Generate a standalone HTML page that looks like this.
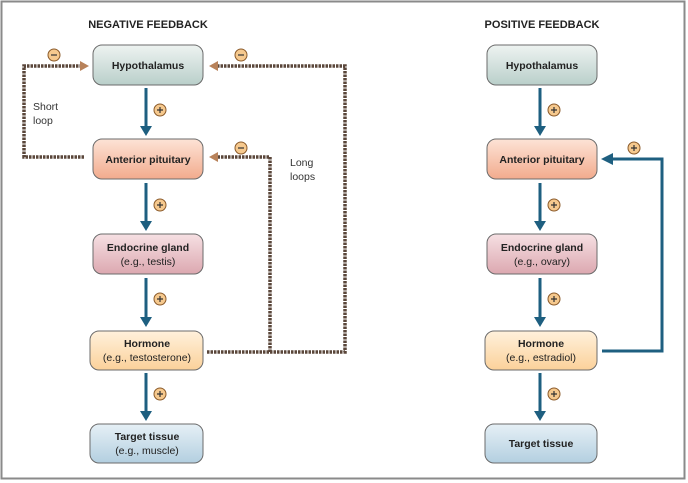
<!DOCTYPE html>
<html><head><meta charset="utf-8"><style>
body{margin:0;background:#fff;}
svg{display:block;font-family:"Liberation Sans",sans-serif;}
</style></head><body>
<svg width="688" height="483" viewBox="0 0 688 483" xmlns="http://www.w3.org/2000/svg">
<defs>
<linearGradient id="g1" x1="0" y1="0" x2="0" y2="1"><stop offset="0" stop-color="#eef3f1"/><stop offset="1" stop-color="#b9cfca"/></linearGradient>
<linearGradient id="g2" x1="0" y1="0" x2="0" y2="1"><stop offset="0" stop-color="#fde3d6"/><stop offset="1" stop-color="#f2ab8d"/></linearGradient>
<linearGradient id="g3" x1="0" y1="0" x2="0" y2="1"><stop offset="0" stop-color="#f6e0e3"/><stop offset="1" stop-color="#dca8b0"/></linearGradient>
<linearGradient id="g4" x1="0" y1="0" x2="0" y2="1"><stop offset="0" stop-color="#fff1dc"/><stop offset="1" stop-color="#fbd19a"/></linearGradient>
<linearGradient id="g5" x1="0" y1="0" x2="0" y2="1"><stop offset="0" stop-color="#e6f0f6"/><stop offset="1" stop-color="#b3cfe0"/></linearGradient>
</defs>
<rect x="1.5" y="1.5" width="683" height="477" fill="#fff" stroke="#8a8a8a" stroke-width="2"/>
<text x="148" y="28" font-size="11" font-weight="bold" text-anchor="middle" fill="#222">NEGATIVE FEEDBACK</text>
<text x="542" y="28" font-size="11" font-weight="bold" text-anchor="middle" fill="#222">POSITIVE FEEDBACK</text>

<g stroke="#6b6b6b" stroke-width="1">
<rect x="93" y="45" width="110" height="40" rx="9" fill="url(#g1)"/>
<rect x="93" y="139" width="110" height="40" rx="9" fill="url(#g2)"/>
<rect x="93" y="234" width="110" height="40" rx="9" fill="url(#g3)"/>
<rect x="90" y="331" width="113" height="39" rx="9" fill="url(#g4)"/>
<rect x="90" y="424" width="113" height="39" rx="9" fill="url(#g5)"/>
<rect x="487" y="45" width="110" height="40" rx="9" fill="url(#g1)"/>
<rect x="487" y="139" width="110" height="40" rx="9" fill="url(#g2)"/>
<rect x="487" y="234" width="110" height="40" rx="9" fill="url(#g3)"/>
<rect x="485" y="331" width="112" height="39" rx="9" fill="url(#g4)"/>
<rect x="485" y="424" width="112" height="39" rx="9" fill="url(#g5)"/>
</g>
<g font-size="10.5" text-anchor="middle" fill="#222">
<text x="148" y="69" font-weight="bold">Hypothalamus</text>
<text x="148" y="163" font-weight="bold">Anterior pituitary</text>
<text x="148" y="251" font-weight="bold">Endocrine gland</text>
<text x="148" y="265">(e.g., testis)</text>
<text x="147" y="347" font-weight="bold">Hormone</text>
<text x="147" y="361">(e.g., testosterone)</text>
<text x="147" y="440" font-weight="bold">Target tissue</text>
<text x="147" y="454">(e.g., muscle)</text>
<text x="542" y="69" font-weight="bold">Hypothalamus</text>
<text x="542" y="163" font-weight="bold">Anterior pituitary</text>
<text x="542" y="251" font-weight="bold">Endocrine gland</text>
<text x="542" y="265">(e.g., ovary)</text>
<text x="541" y="347" font-weight="bold">Hormone</text>
<text x="541" y="361">(e.g., estradiol)</text>
<text x="541" y="447" font-weight="bold">Target tissue</text>
</g>
<g font-size="10.5" fill="#333">
<text x="33" y="110">Short</text><text x="33" y="124">loop</text>
<text x="290" y="166">Long</text><text x="290" y="180">loops</text>
</g>

<!-- blue arrows -->
<g stroke="#1e5f80" stroke-width="3" fill="none">
<line x1="146" y1="88" x2="146" y2="127"/><line x1="146" y1="183" x2="146" y2="222"/><line x1="146" y1="278" x2="146" y2="318"/><line x1="146" y1="373" x2="146" y2="412"/>
<line x1="540" y1="88" x2="540" y2="127"/><line x1="540" y1="183" x2="540" y2="222"/><line x1="540" y1="278" x2="540" y2="318"/><line x1="540" y1="373" x2="540" y2="412"/>
<polyline points="602,351 662,351 662,159 612,159"/>
</g>
<g fill="#1e5f80">
<polygon points="140,126 152,126 146,136"/><polygon points="140,221 152,221 146,231"/><polygon points="140,317 152,317 146,327"/><polygon points="140,411 152,411 146,421"/>
<polygon points="534,126 546,126 540,136"/><polygon points="534,221 546,221 540,231"/><polygon points="534,317 546,317 540,327"/><polygon points="534,411 546,411 540,421"/>
<polygon points="613,153 613,165 601,159"/>
</g>

<!-- dashed feedback -->
<g fill="none" stroke="#5a463a" stroke-width="3.5" stroke-dasharray="2.5 1">
<polyline points="84,157 24,157 24,66 80,66"/>
<polyline points="207,352 345,352 345,66 218,66"/>
<polyline points="270,352 270,157 218,157"/>
</g>
<g fill="#b8825a">
<polygon points="80,61 80,71 89,66"/>
<polygon points="218,61 218,71 209,66"/>
<polygon points="218,152 218,162 209,157"/>
</g>

<!-- signs -->
<g font-size="10" font-weight="bold" text-anchor="middle" fill="#333">
<g stroke="#8a5a2a" stroke-width="1" fill="#f6c98e">
<circle cx="54" cy="55" r="6"/><circle cx="241" cy="55" r="6"/><circle cx="241" cy="148" r="6"/>
<circle cx="160" cy="110" r="6"/><circle cx="160" cy="205" r="6"/><circle cx="160" cy="299" r="6"/><circle cx="160" cy="394" r="6"/>
<circle cx="554" cy="110" r="6"/><circle cx="554" cy="205" r="6"/><circle cx="554" cy="299" r="6"/><circle cx="554" cy="394" r="6"/>
<circle cx="634" cy="148" r="6"/>
</g>
<g stroke="#333" stroke-width="1.2">
<line x1="51" y1="55" x2="57" y2="55"/><line x1="238" y1="55" x2="244" y2="55"/><line x1="238" y1="148" x2="244" y2="148"/>
</g>
<g stroke="#333" stroke-width="1.2">
<path d="M157 110h6M160 107v6M157 205h6M160 202v6M157 299h6M160 296v6M157 394h6M160 391v6"/>
<path d="M551 110h6M554 107v6M551 205h6M554 202v6M551 299h6M554 296v6M551 394h6M554 391v6M631 148h6M634 145v6"/>
</g>
</g>
</svg>
</body></html>
